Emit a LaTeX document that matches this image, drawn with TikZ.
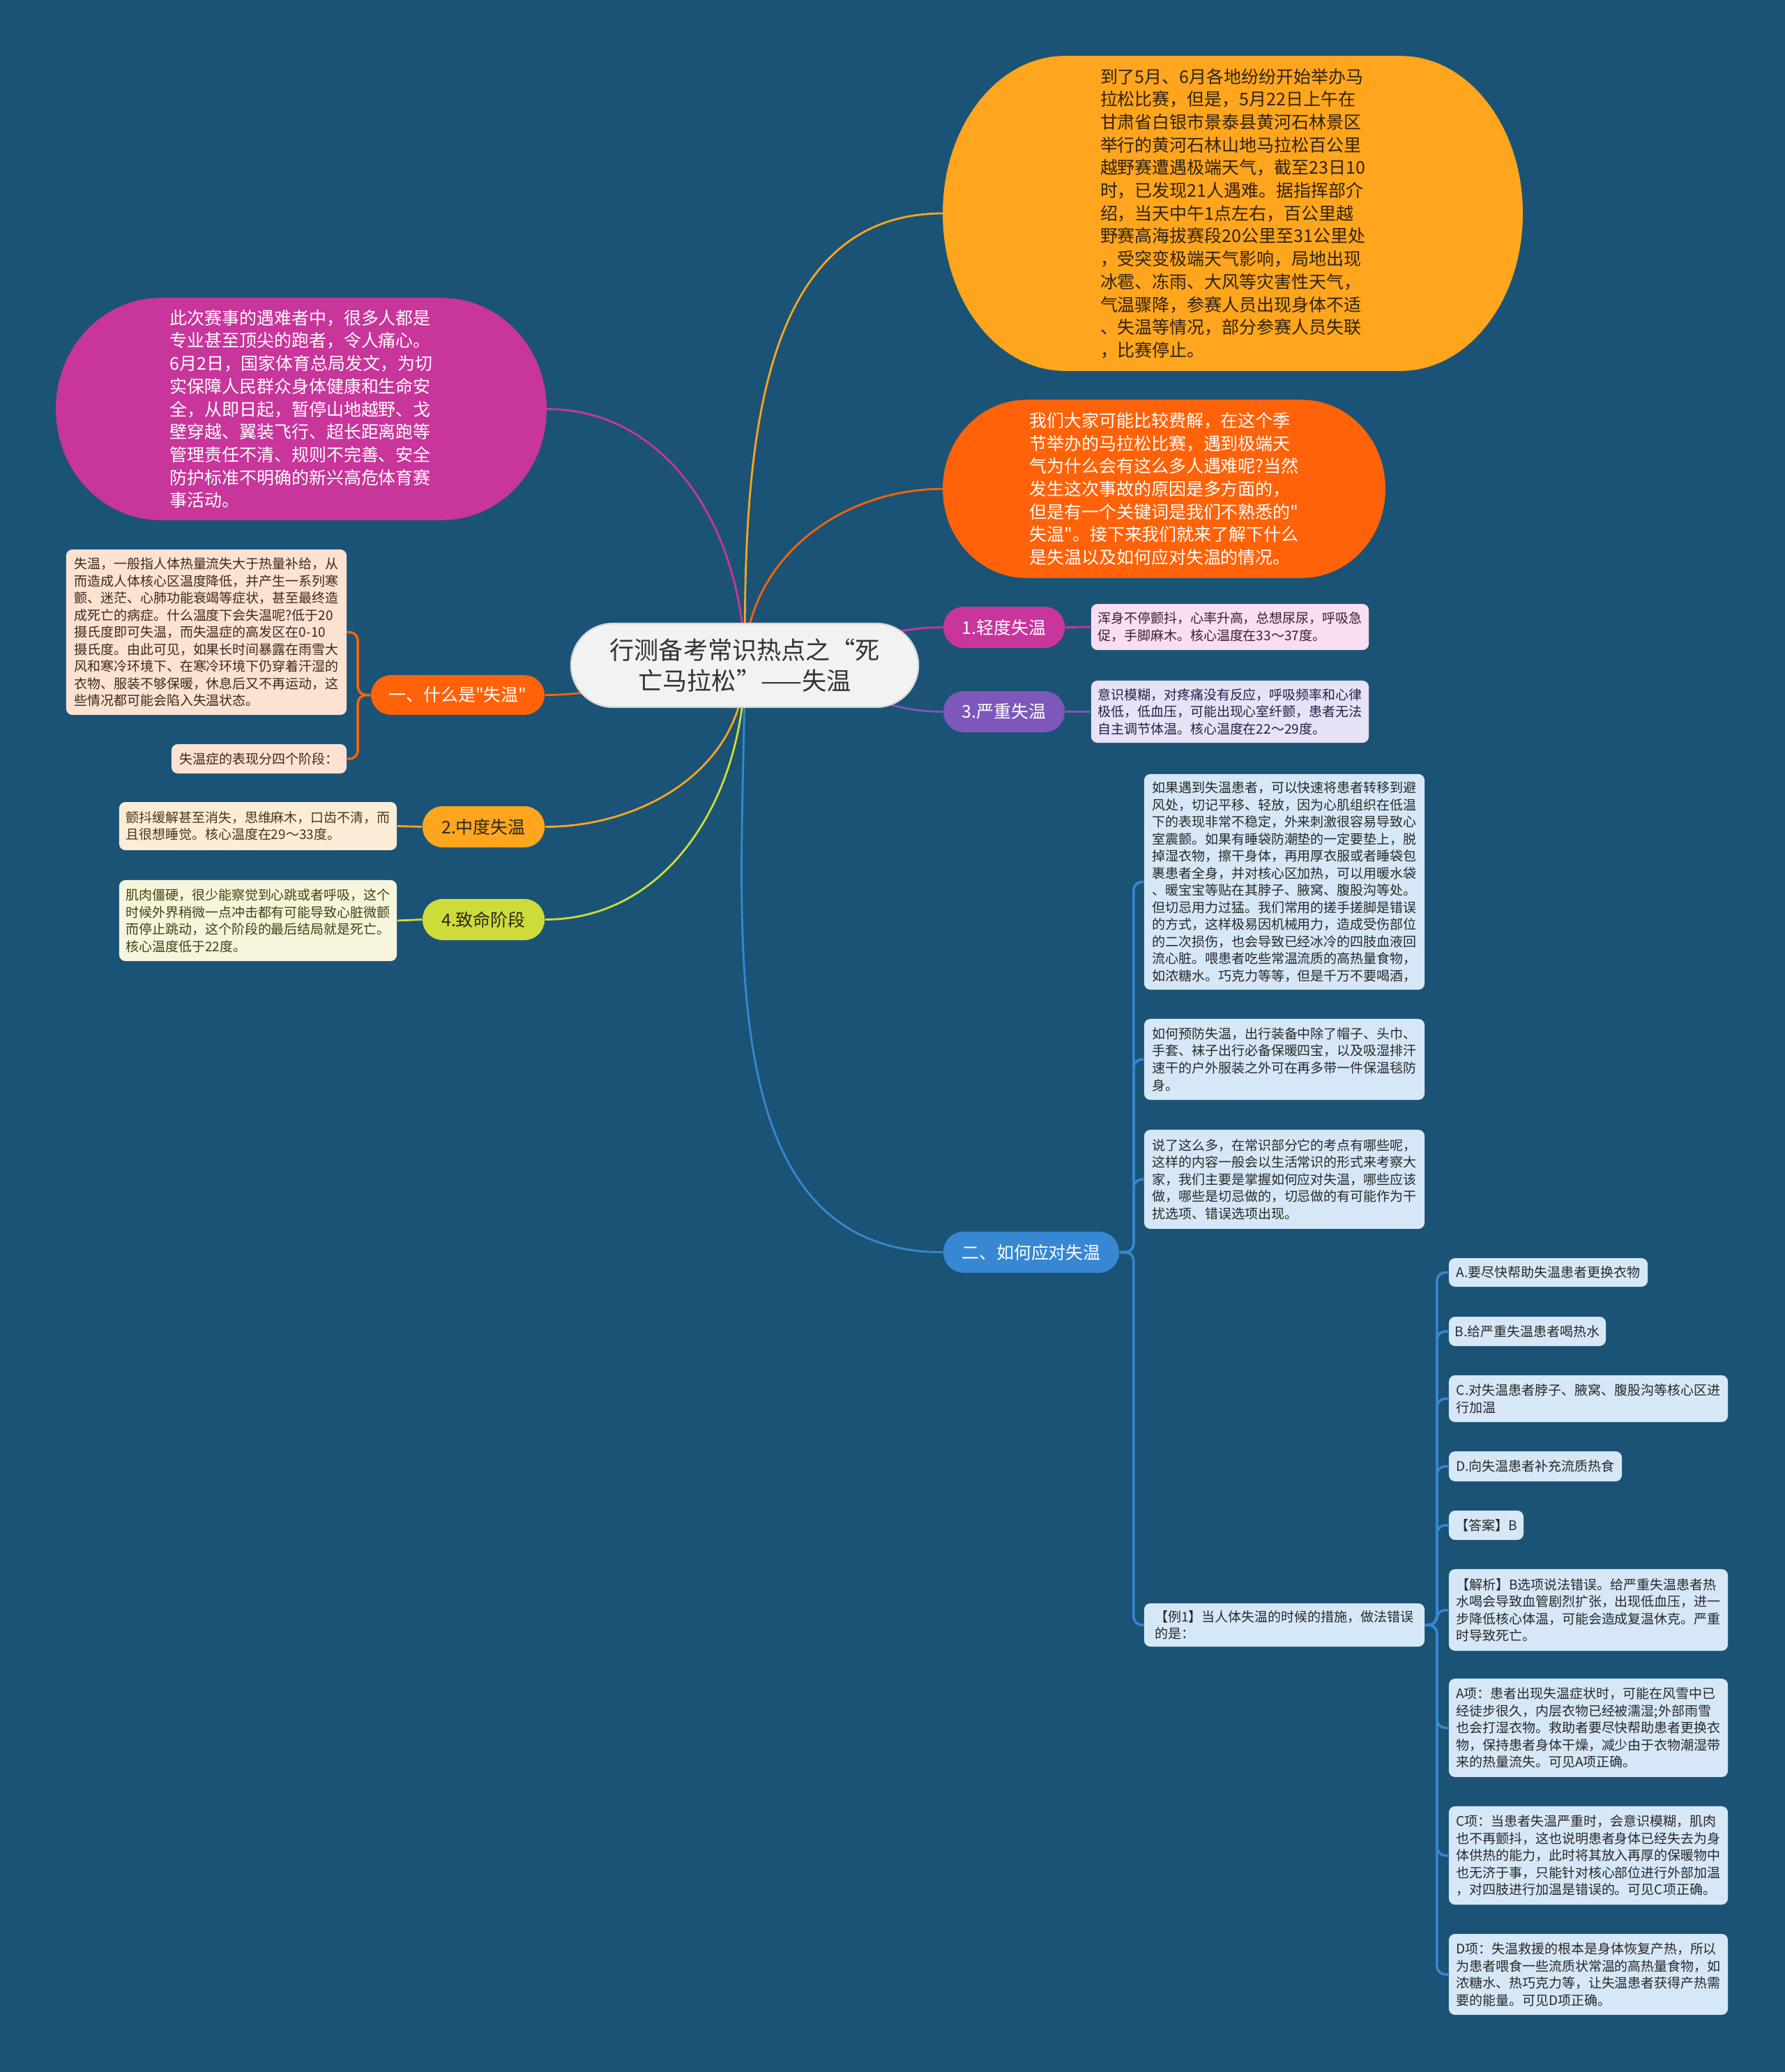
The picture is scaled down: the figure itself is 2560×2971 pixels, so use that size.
\documentclass[tikz,border=0pt]{standalone}
\usepackage{fontspec}
\setmainfont{Noto Sans CJK SC}[Ligatures=TeXOff]
\usetikzlibrary{backgrounds}
\definecolor{bgc}{RGB}{26,83,117}
\definecolor{rootc}{RGB}{242,242,242}
\definecolor{rootd}{RGB}{215,215,215}
\definecolor{roott}{RGB}{51,51,51}
\definecolor{cmag}{RGB}{200,53,155}
\definecolor{cpur}{RGB}{125,87,185}
\definecolor{cred}{RGB}{255,98,8}
\definecolor{corg}{RGB}{255,165,30}
\definecolor{clime}{RGB}{205,220,57}
\definecolor{cblue}{RGB}{55,135,210}
\definecolor{fpink}{RGB}{249,221,240}
\definecolor{flav}{RGB}{232,226,246}
\definecolor{fpeach}{RGB}{253,226,210}
\definecolor{fcream}{RGB}{253,237,215}
\definecolor{fyel}{RGB}{247,246,220}
\definecolor{fblue}{RGB}{214,232,247}
\definecolor{tpink}{RGB}{60,30,50}
\definecolor{tlav}{RGB}{40,30,70}
\definecolor{tpeach}{RGB}{60,40,30}
\definecolor{tcream}{RGB}{70,55,25}
\definecolor{tyel}{RGB}{65,65,20}
\definecolor{tblue}{RGB}{40,40,40}
\definecolor{tdark}{RGB}{45,40,30}
\definecolor{evtt}{RGB}{45,35,20}
\newcommand\fbig{\fontsize{7.1pt}{9.3pt}\selectfont}
\newcommand\fdet{\fontsize{5.4pt}{6.97pt}\selectfont}
\newcommand\flab{\fontsize{7.1pt}{8.5pt}\selectfont}
\newcommand\froot{\fontsize{10pt}{12.5pt}\selectfont}
\newcommand\ellblob[4]{\fill[#4] ([xshift=#2]#1.north west) -- ([xshift=-#2]#1.north east) arc[start angle=90,end angle=0,x radius=#2,y radius=#3] -- ([yshift=#3]#1.south east) arc[start angle=0,end angle=-90,x radius=#2,y radius=#3] -- ([xshift=#2]#1.south west) arc[start angle=270,end angle=180,x radius=#2,y radius=#3] -- ([yshift=-#3]#1.north west) arc[start angle=180,end angle=90,x radius=#2,y radius=#3] -- cycle;}
\begin{document}
\begin{tikzpicture}[x=0.01cm,y=0.01cm,
  lab/.style={rectangle, rounded corners=0.29cm, inner sep=0pt, minimum height=0.59cm, font=\flab, text=white},
  det/.style={rectangle, rounded corners=0.09cm, inner sep=0pt, align=left, font=\fdet},
  blob/.style={rectangle, inner sep=0pt, align=left, font=\fbig},
  con/.style={line width=0.8pt},
  brk/.style={line width=1pt, rounded corners=0.12cm}]
\useasboundingbox (0,0) rectangle (2560,-2971);

% root
\node[rectangle, rounded corners=0.6cm, fill=rootc, draw=rootd, line width=0.6pt, text=roott, minimum width=4.98cm, minimum height=1.2cm, inner sep=0pt, align=center, font=\froot] (root) at (1068,-954) {行测备考常识热点之“死\\亡马拉松”——失温};

% big blobs (text)
\node[blob, minimum width=8.3cm, minimum height=4.5cm, text=evtt] (evt) at (1768,-306) {到了5月、6月各地纷纷开始举办马\\拉松比赛，但是，5月22日上午在\\甘肃省白银市景泰县黄河石林景区\\举行的黄河石林山地马拉松百公里\\越野赛遭遇极端天气，截至23日10\\时，已发现21人遇难。据指挥部介\\绍，当天中午1点左右，百公里越\\野赛高海拔赛段20公里至31公里处\\，受突变极端天气影响，局地出现\\冰雹、冻雨、大风等灾害性天气，\\气温骤降，参赛人员出现身体不适\\、失温等情况，部分参赛人员失联\\，比赛停止。};
\node[blob, minimum width=6.33cm, minimum height=2.54cm, text=white] (why) at (1669.5,-701) {我们大家可能比较费解，在这个季\\节举办的马拉松比赛，遇到极端天\\气为什么会有这么多人遇难呢?当然\\发生这次事故的原因是多方面的，\\但是有一个关键词是我们不熟悉的"\\失温"。接下来我们就来了解下什么\\是失温以及如何应对失温的情况。};
\node[blob, minimum width=7.02cm, minimum height=3.17cm, text=white] (ban) at (432,-586.5) {此次赛事的遇难者中，很多人都是\\专业甚至顶尖的跑者，令人痛心。\\6月2日，国家体育总局发文，为切\\实保障人民群众身体健康和生命安\\全，从即日起，暂停山地越野、戈\\壁穿越、翼装飞行、超长距离跑等\\管理责任不清、规则不完善、安全\\防护标准不明确的新兴高危体育赛\\事活动。};

% right stage nodes
\node[lab, fill=cmag, minimum width=1.74cm] (l1) at (1440,-899.5) {1.轻度失温};
\node[det, fill=fpink, text=tpink, minimum width=3.98cm, minimum height=0.66cm] (d1) at (1764,-899) {浑身不停颤抖，心率升高，总想尿尿，呼吸急\\促，手脚麻木。核心温度在33～37度。};
\node[lab, fill=cpur, minimum width=1.74cm] (l3) at (1440,-1020.5) {3.严重失温};
\node[det, fill=flav, text=tlav, minimum width=3.98cm, minimum height=0.89cm] (d3) at (1764,-1020.5) {意识模糊，对疼痛没有反应，呼吸频率和心律\\极低，低血压，可能出现心室纤颤，患者无法\\自主调节体温。核心温度在22～29度。};

% left nodes
\node[lab, fill=cred, minimum width=2.49cm, minimum height=0.57cm] (s1) at (656.5,-996.5) {一、什么是"失温"};
\node[det, fill=fpeach, text=tpeach, minimum width=4.02cm, minimum height=2.37cm] (def) at (296,-906.5) {失温，一般指人体热量流失大于热量补给，从\\而造成人体核心区温度降低，并产生一系列寒\\颤、迷茫、心肺功能衰竭等症状，甚至最终造\\成死亡的病症。什么温度下会失温呢?低于20\\摄氏度即可失温，而失温症的高发区在0-10\\摄氏度。由此可见，如果长时间暴露在雨雪大\\风和寒冷环境下、在寒冷环境下仍穿着汗湿的\\衣物、服装不够保暖，休息后又不再运动，这\\些情况都可能会陷入失温状态。};
\node[det, fill=fpeach, text=tpeach, minimum width=2.51cm, minimum height=0.42cm] (four) at (371.5,-1088) {失温症的表现分四个阶段：};
\node[lab, fill=corg, text=tdark, minimum width=1.75cm] (l2) at (693.5,-1185.5) {2.中度失温};
\node[det, fill=fcream, text=tcream, minimum width=3.98cm, minimum height=0.69cm] (d2) at (370,-1184.5) {颤抖缓解甚至消失，思维麻木，口齿不清，而\\且很想睡觉。核心温度在29～33度。};
\node[lab, fill=clime, text=tdark, minimum width=1.75cm] (l4) at (693.5,-1318.5) {4.致命阶段};
\node[det, fill=fyel, text=tyel, minimum width=3.98cm, minimum height=1.16cm] (d4) at (370,-1320) {肌肉僵硬，很少能察觉到心跳或者呼吸，这个\\时候外界稍微一点冲击都有可能导致心脏微颤\\而停止跳动，这个阶段的最后结局就是死亡。\\核心温度低于22度。};

% how to respond
\node[lab, fill=cblue, minimum width=2.52cm] (s2) at (1479,-1795.5) {二、如何应对失温};
\node[det, fill=fblue, text=tblue, minimum width=4.02cm, minimum height=3.09cm] (b1) at (1842,-1264.5) {如果遇到失温患者，可以快速将患者转移到避\\风处，切记平移、轻放，因为心肌组织在低温\\下的表现非常不稳定，外来刺激很容易导致心\\室震颤。如果有睡袋防潮垫的一定要垫上，脱\\掉湿衣物，擦干身体，再用厚衣服或者睡袋包\\裹患者全身，并对核心区加热，可以用暖水袋\\、暖宝宝等贴在其脖子、腋窝、腹股沟等处。\\但切忌用力过猛。我们常用的搓手搓脚是错误\\的方式，这样极易因机械用力，造成受伤部位\\的二次损伤，也会导致已经冰冷的四肢血液回\\流心脏。喂患者吃些常温流质的高热量食物，\\如浓糖水。巧克力等等，但是千万不要喝酒，};
\node[det, fill=fblue, text=tblue, minimum width=4.02cm, minimum height=1.16cm] (b2) at (1842,-1519) {如何预防失温，出行装备中除了帽子、头巾、\\手套、袜子出行必备保暖四宝，以及吸湿排汗\\速干的户外服装之外可在再多带一件保温毯防\\身。};
\node[det, fill=fblue, text=tblue, minimum width=4.02cm, minimum height=1.42cm] (b3) at (1842,-1691) {说了这么多，在常识部分它的考点有哪些呢，\\这样的内容一般会以生活常识的形式来考察大\\家，我们主要是掌握如何应对失温，哪些应该\\做，哪些是切忌做的，切忌做的有可能作为干\\扰选项、错误选项出现。};
\node[det, fill=fblue, text=tblue, minimum width=4.02cm, minimum height=0.62cm] (b4) at (1842,-2330) {【例1】当人体失温的时候的措施，做法错误\\的是：};

% example options
\node[det, fill=fblue, text=tblue, minimum width=2.85cm, minimum height=0.41cm] (oa) at (2220.5,-1824.5) {A.要尽快帮助失温患者更换衣物};
\node[det, fill=fblue, text=tblue, minimum width=2.25cm, minimum height=0.42cm] (ob) at (2190.5,-1909) {B.给严重失温患者喝热水};
\node[det, fill=fblue, text=tblue, minimum width=4.0cm, minimum height=0.67cm] (oc) at (2278,-2005.5) {C.对失温患者脖子、腋窝、腹股沟等核心区进\\行加温};
\node[det, fill=fblue, text=tblue, minimum width=2.48cm, minimum height=0.43cm] (od) at (2202,-2102.5) {D.向失温患者补充流质热食};
\node[det, fill=fblue, text=tblue, minimum width=1.07cm, minimum height=0.42cm] (ans) at (2131.5,-2187) {【答案】B};
\node[det, fill=fblue, text=tblue, minimum width=4.0cm, minimum height=1.17cm] (ana) at (2278,-2308.5) {【解析】B选项说法错误。给严重失温患者热\\水喝会导致血管剧烈扩张，出现低血压，进一\\步降低核心体温，可能会造成复温休克。严重\\时导致死亡。};
\node[det, fill=fblue, text=tblue, minimum width=4.0cm, minimum height=1.41cm] (xa) at (2278,-2477.5) {A项：患者出现失温症状时，可能在风雪中已\\经徒步很久，内层衣物已经被濡湿;外部雨雪\\也会打湿衣物。救助者要尽快帮助患者更换衣\\物，保持患者身体干燥，减少由于衣物潮湿带\\来的热量流失。可见A项正确。};
\node[det, fill=fblue, text=tblue, minimum width=4.0cm, minimum height=1.41cm] (xc) at (2278,-2660.5) {C项：当患者失温严重时，会意识模糊，肌肉\\也不再颤抖，这也说明患者身体已经失去为身\\体供热的能力，此时将其放入再厚的保暖物中\\也无济于事，只能针对核心部位进行外部加温\\，对四肢进行加温是错误的。可见C项正确。};
\node[det, fill=fblue, text=tblue, minimum width=4.0cm, minimum height=1.16cm] (xd) at (2278,-2831) {D项：失温救援的根本是身体恢复产热，所以\\为患者喂食一些流质状常温的高热量食物，如\\浓糖水、热巧克力等，让失温患者获得产热需\\要的能量。可见D项正确。};

\begin{scope}[on background layer]
\fill[bgc] (0,0) rectangle (2560,-2971);
% connectors from root
\draw[con, cmag] (root.center) to[out=90,in=0] (ban.east);
\draw[con, corg] (root.center) to[out=90,in=180] (evt.west);
\draw[con, cred] (root.center) to[out=90,in=180] (why.west);
\draw[con, cmag] (root.center) to[out=0,in=180] (l1.west);
\draw[con, cpur] (root.center) to[out=0,in=180] (l3.west);
\draw[con, cred] (root.center) to[out=180,in=0] (s1.east);
\draw[con, corg] (root.center) to[out=270,in=0] (l2.east);
\draw[con, clime] (root.center) to[out=270,in=0] (l4.east);
\draw[con, cblue] (root.center) to[out=270,in=180] (s2.west);
% stage details
\draw[con, cmag] (l1.east) -- (d1.west);
\draw[con, cpur] (l3.east) -- (d3.west);
\draw[con, corg] (l2.west) -- (d2.east);
\draw[con, clime] (l4.west) -- (d4.east);
% brackets
\draw[brk, cred] (s1.west) -- ++(-18,0) |- (def.east);
\draw[brk, cred] (s1.west) -- ++(-18,0) |- (four.east);
\foreach \c in {b1,b2,b3,b4} \draw[brk, cblue] (s2.east) -- ++(20,0) |- (\c.west);
\foreach \c in {oa,ob,oc,od,ans,ana,xa,xc,xd} \draw[brk, cblue] (b4.east) -- ++(17,0) |- (\c.west);
% blobs
\ellblob{evt}{1.75cm}{2.25cm}{corg}
\ellblob{why}{1.2cm}{1.27cm}{cred}
\ellblob{ban}{1.5cm}{1.585cm}{cmag}
\end{scope}
\end{tikzpicture}
\end{document}
